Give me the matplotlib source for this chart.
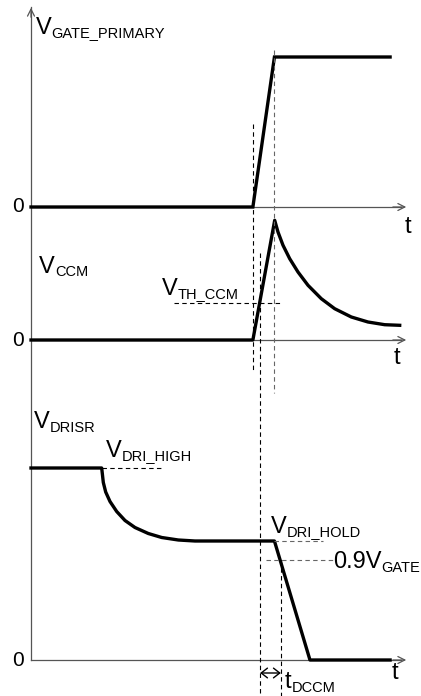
import matplotlib
matplotlib.use("Agg")
import matplotlib.pyplot as plt
from matplotlib.transforms import offset_copy

plt.rcParams['font.family'] = ['Liberation Sans', 'DejaVu Sans']

# ---- data (time in arbitrary units 0..100, voltages in arbitrary units) ----
t_gate = [0, 58.7, 64.4, 95.0]
v_gate = [0, 0, 150, 150]

t_ccm = [0, 58.7, 64.47, 65.34, 66.67, 68.44, 70.63, 73.28, 76.80, 80.34, 84.74, 89.15, 93.57, 97.54]
v_ccm = [0, 0, 119.7, 108, 94.7, 81.3, 68, 54.7, 41.3, 31.3, 23, 18, 15.3, 14.7]

t_dri = [0, 18.7, 18.86, 19.13, 19.76, 20.90, 22.67, 24.87, 27.51, 31.03, 34.58, 38.97, 43.39, 46.03,
         64.4, 73.8, 95.0]
v_dri = [192, 192, 186.7, 177.5, 168, 158.5, 148.5, 139.5, 132.5, 126.5, 122.5, 120, 119, 119,
         119, 0, 0]

v_th_ccm = 37
v_dri_high = 192
v_dri_hold = 119
v_09gate = 100

t_rise_start = 58.7
t_peak = 64.4
t_th = 60.6
t_09 = 66.1

# ---- layout ----
W, H, DPI = 421, 696, 100
fig = plt.figure(figsize=(W / DPI, H / DPI), dpi=DPI)
ax = fig.add_axes([0, 0, 1, 1])
sx = 3.78
x0 = 31
ax.set_xlim(-x0 / sx, (W - x0) / sx)
ax.set_ylim(H, 0)
ax.axis('off')

base = [207, 340, 660]  # panel baselines (px from top)
def Y(panel, v):
    return [base[panel] - vv for vv in v] if isinstance(v, (list, tuple)) else base[panel] - v

def tx(px):
    return (px - x0) / sx

axis_col = '#555555'
sig_lw = 2.4
dash = (0, (4, 3))

# axes
t_axis_end = tx(409)
ax.plot([0, 0], [7, base[2]], color=axis_col, lw=0.9)
ax.annotate('', xy=(0, 5), xytext=(0, 20),
            arrowprops=dict(arrowstyle='->,head_length=0.5,head_width=0.25', color=axis_col, lw=0.9))
for p in range(3):
    ax.plot([0, t_axis_end - 2], [base[p], base[p]], color=axis_col, lw=0.9)
    ax.annotate('', xy=(t_axis_end, base[p]), xytext=(t_axis_end - 5, base[p]),
                arrowprops=dict(arrowstyle='->,head_length=0.5,head_width=0.25', color=axis_col, lw=0.9))

# signals
ax.plot(t_gate, Y(0, v_gate), color='black', lw=sig_lw, solid_joinstyle='miter')
ax.plot(t_ccm, Y(1, v_ccm), color='black', lw=sig_lw, solid_joinstyle='round')
ax.plot(t_dri, Y(2, v_dri), color='black', lw=sig_lw, solid_joinstyle='round')

# dashed guides
dk = dict(color='black', lw=0.8, linestyle=dash)
gr = dict(color='#666666', lw=0.8, linestyle=dash)
ax.plot([t_rise_start] * 2, [124, 372], **dk)
ax.plot([t_peak] * 2, [50, 393], **gr)
ax.plot([t_th] * 2, [253, 696], **dk)
ax.plot([t_09] * 2, [560, 696], **dk)
ax.plot([tx(174), tx(282)], [Y(1, v_th_ccm)] * 2, **dk)
ax.plot([18.8, tx(162)], [Y(2, v_dri_high)] * 2, **dk)
ax.plot([64.4, tx(323)], [Y(2, v_dri_hold)] * 2, **gr)
ax.plot([tx(266), tx(334)], [Y(2, v_09gate)] * 2, **gr)

# double arrow t_DCCM
ax.annotate('', xy=(t_th, 673), xytext=(t_09, 673),
            arrowprops=dict(arrowstyle='<->,head_length=0.45,head_width=0.35', color='black', lw=1.0,
                            shrinkA=0, shrinkB=0))

renderer = fig.canvas.get_renderer()
fs_main = 17
fs_sub = 10.5

def lab(px, py, main, sub=None, fontsize=fs_main, ha='left', va='baseline'):
    t = ax.text(tx(px), py, main, fontsize=fontsize, ha=ha, va=va, color='black')
    if sub:
        w = t.get_window_extent(renderer).width
        tr = offset_copy(ax.transData, fig=fig, x=w, y=-3.5, units='dots')
        ax.text(tx(px), py, sub, fontsize=fs_sub, ha='left', va='baseline', color='black', transform=tr)

lab(36, 34, 'V', 'GATE_PRIMARY')
lab(39, 273, 'V', 'CCM')
lab(162, 295, 'V', 'TH_CCM')
lab(34, 428, 'V', 'DRISR')
lab(106, 457, 'V', 'DRI_HIGH')
lab(271, 533, 'V', 'DRI_HOLD')
lab(333, 568, '0.9V', 'GATE')
lab(285, 688, 't', 'DCCM')

for p in range(3):
    lab(18, base[p], '0', fontsize=15, ha='center', va='center')
lab(408, 227, 't', ha='center', va='center')
lab(397, 358, 't', ha='center', va='center')
lab(395, 673, 't', ha='center', va='center')

fig.savefig('out.png', dpi=DPI)
